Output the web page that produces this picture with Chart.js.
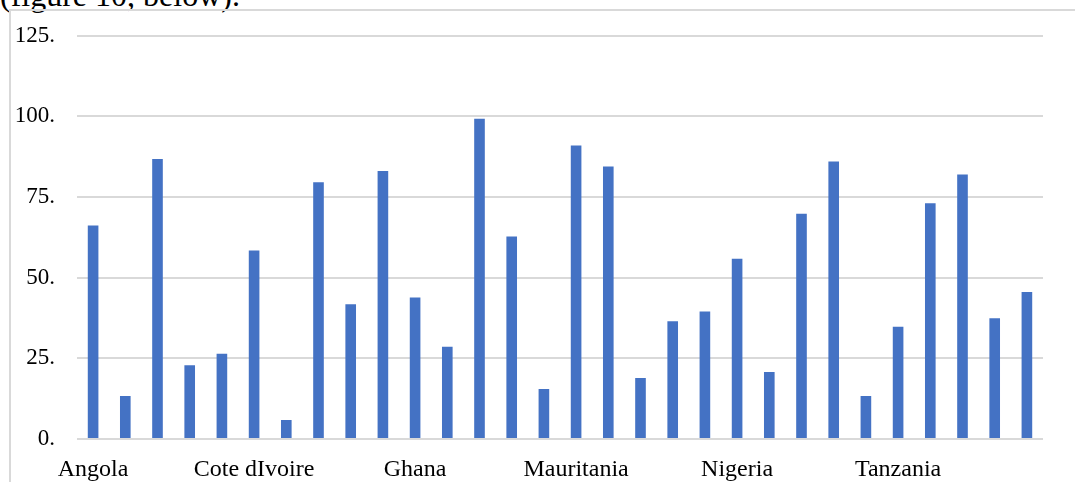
<!DOCTYPE html>
<html>
<head>
<meta charset="utf-8">
<script src="https://cdn.jsdelivr.net/npm/chart.js@4.4.1/dist/chart.umd.min.js"></script>
<style>
  html, body { margin: 0; padding: 0; background: #fff; }
  body { width: 1075px; height: 482px; position: relative; overflow: hidden; }
  #lead {
    position: absolute; left: 0; top: -21px;
    font-family: "Liberation Serif", "Times New Roman", serif;
    font-size: 32px; line-height: 32px; color: #000; white-space: nowrap;
  }
  #frame {
    position: absolute; left: 9px; top: 9px; width: 1100px; height: 500px;
    border-top: 2px solid #d9d9d9; border-left: 2px solid #d9d9d9;
  }
  #wrap { position: absolute; left: 0; top: 0; width: 1075px; height: 482px; }
</style>
</head>
<body>
<div id="lead">(figure 10, below).</div>
<div id="frame"></div>
<div id="wrap"><canvas id="chart" width="1075" height="482"></canvas></div>
<script>
// Countries along the category axis
const categories = [
  'Angola', 'Benin', 'Botswana', 'Burkina Faso', 'Cameroon',
  'Cote dIvoire', 'Egypt', 'Ethiopia', 'Gabon', 'Gambia',
  'Ghana', 'Guinea', 'Kenya', 'Madagascar', 'Malawi',
  'Mauritania', 'Mauritius', 'Morocco', 'Mozambique', 'Namibia',
  'Nigeria', 'Rwanda', 'Senegal', 'South Africa', 'Sudan',
  'Tanzania', 'Togo', 'Tunisia', 'Uganda', 'Zambia'
];

// One value per country
const values = [
  66.2, 13.3, 86.8, 22.9, 26.4,
  58.4, 5.9, 79.6, 41.8, 83.1,
  43.9, 28.6, 99.3, 62.8, 15.5,
  91.0, 84.5, 18.9, 36.5, 39.5,
  55.9, 20.8, 69.8, 86.0, 13.3,
  34.8, 73.1, 82.0, 37.4, 45.6
];

// Value-axis ticks
const yTicks = [0, 25, 50, 75, 100, 125];

// Every fifth country name is printed under the axis
const labelEvery = 5;

const serif = '"Liberation Serif", "Times New Roman", serif';

new Chart(document.getElementById('chart'), {
  type: 'bar',
  data: {
    labels: categories,
    datasets: [{
      data: values,
      backgroundColor: '#4472C4',
      borderWidth: 0,
      categoryPercentage: 1.0,
      barPercentage: 0.33
    }]
  },
  options: {
    responsive: false,
    animation: false,
    events: [],
    layout: { padding: { left: 0, right: 32, top: 35, bottom: 0 } },
    plugins: { legend: { display: false }, tooltip: { enabled: false } },
    scales: {
      x: {
        grid: { display: false, drawTicks: false },
        border: { display: false },
        ticks: {
          autoSkip: false,
          maxRotation: 0,
          minRotation: 0,
          padding: 16,
          color: '#000',
          font: { family: serif, size: 24 },
          callback: (v, i) => (i % labelEvery === 0 ? categories[i] : '')
        },
        afterFit: (scale) => { scale.height = 43; }
      },
      y: {
        min: yTicks[0],
        max: yTicks[yTicks.length - 1],
        afterBuildTicks: (scale) => { scale.ticks = yTicks.map(v => ({ value: v })); },
        grid: { color: '#d9d9d9', lineWidth: 2, drawTicks: false },
        border: { display: false },
        ticks: {
          padding: 22,
          color: '#000',
          font: { family: serif, size: 23 },
          callback: (v) => v + '.'
        },
        afterFit: (scale) => { scale.width = 77; }
      }
    }
  }
});
</script>
</body>
</html>
